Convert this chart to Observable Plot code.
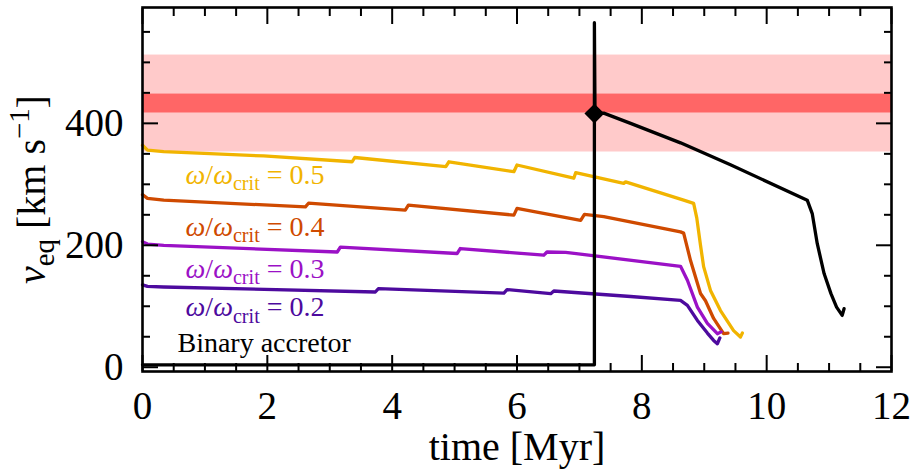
<!DOCTYPE html>
<html><head><meta charset="utf-8">
<script src="https://cdn.jsdelivr.net/npm/d3@7"></script>
<script src="https://cdn.jsdelivr.net/npm/@observablehq/plot@0.6"></script>
<style>body{margin:0;background:#fff} svg text, svg tspan{font-family:"Liberation Serif", serif !important;}</style>
</head><body><div id="chart"></div>
<script>
// ---- data ----
const xMajor = [0, 2, 4, 6, 8, 10, 12];
const xMinor = [0.5,1,1.5,2.5,3,3.5,4.5,5,5.5,6.5,7,7.5,8.5,9,9.5,10.5,11,11.5];
const yMajor = [0, 200, 400];
const yMinor = [50,100,150,250,300,350,450,500,550];

const bandOuter = [353, 512];
const bandInner = [417, 448];

const t05 = [0, 0.08, 0.34, 1.94, 3.36, 3.40, 4.86, 4.91, 5.95, 6.0, 6.91, 6.94, 7.71, 7.74, 8.67, 8.83, 8.88, 8.94, 8.99, 9.10, 9.26, 9.47, 9.58, 9.61];
const v05 = [364, 356, 353.6, 346.5, 337, 344, 329, 337, 320.7, 331.7, 310, 319, 301.6, 304, 274, 268.7, 245, 200, 165, 126, 93, 60, 49.5, 56];
const t04 = [0, 0.08, 0.34, 2.61, 2.66, 4.21, 4.26, 5.95, 6.0, 7.02, 7.08, 7.39, 8.62, 8.67, 8.78, 8.94, 9.02, 9.15, 9.31, 9.38];
const v04 = [283, 277, 274, 263, 269, 257.7, 266, 249.5, 260.5, 241, 250.6, 247, 222, 220, 175, 121, 109, 80, 55, 56];
const t03 = [0, 0.08, 0.34, 3.12, 3.17, 5.04, 5.09, 6.43, 6.48, 6.78, 8.62, 8.73, 8.89, 9.05, 9.21, 9.27];
const v03 = [206, 202, 200, 189, 197, 186.5, 194.7, 183.7, 189, 188.5, 165.6, 142.6, 98.7, 72, 55, 58];
const t02 = [0, 0.08, 0.34, 3.73, 3.78, 5.79, 5.84, 6.54, 6.59, 7.82, 8.62, 8.73, 8.89, 9.05, 9.15, 9.21, 9.25];
const v02 = [135, 132.5, 131.6, 123.4, 129, 121.7, 127.3, 120.7, 125, 116, 109.7, 101.5, 76.8, 56, 44, 38.5, 48];
const tBin = [0, 7.24, 7.24, 7.25, 7.39, 7.82, 8.62, 9.42, 10.65, 10.73, 10.81, 10.92, 11.03, 11.12, 11.21, 11.24];
const vBin = [4, 4, 565, 416, 416.7, 400, 368, 332, 274, 252, 203, 153.6, 120.7, 98.7, 85, 96];

const markerT = [7.24];
const markerV = [416];

const seriesColors = ["#f1b400", "#cf4a00", "#9b11c6", "#4d0a9e", "#000000"];
const labelText = ["*ω*/*ω*_{crit} = 0.5", "*ω*/*ω*_{crit} = 0.4", "*ω*/*ω*_{crit} = 0.3", "*ω*/*ω*_{crit} = 0.2", "Binary accretor"];
const labelX = [0.69, 0.69, 0.69, 0.69, 0.56];
const labelY = [315, 230, 161, 98, 39];

const xLabel = "time [Myr]";
const yLabel = "*v*_{eq} [km s^{−1}]";

// ---- build ----
const pts = (t, v) => t.map((d, i) => ({x: d, y: v[i]}));
const series = [pts(t05, v05), pts(t04, v04), pts(t03, v03), pts(t02, v02), pts(tBin, vBin)];
const labels = labelText.map((s, i) => ({s, x: labelX[i], y: labelY[i], c: seriesColors[i]}));

const FONT = "Liberation Serif";

const tickAxes = [];
for (const anchor of ["bottom", "top"]) {
  tickAxes.push(Plot.axisX({anchor, ticks: xMajor, tickSize: -16, tickFormat: () => "", label: null, strokeWidth: 2}));
  tickAxes.push(Plot.axisX({anchor, ticks: xMinor, tickSize: -8, tickFormat: () => "", label: null, strokeWidth: 2}));
}
for (const anchor of ["left", "right"]) {
  tickAxes.push(Plot.axisY({anchor, ticks: yMajor, tickSize: -16, tickFormat: () => "", label: null, strokeWidth: 2}));
  tickAxes.push(Plot.axisY({anchor, ticks: yMinor, tickSize: -8, tickFormat: () => "", label: null, strokeWidth: 2}));
}

const chart = Plot.plot({
  width: 912,
  height: 471,
  marginLeft: 142,
  marginRight: 21,
  marginTop: 7,
  marginBottom: 100,
  style: {fontFamily: FONT, fontSize: "39px", color: "black", background: "white"},
  x: {domain: [0, 12]},
  y: {domain: [-7, 590]},
  marks: [
    Plot.rect([bandOuter], {y1: d => d[0], y2: d => d[1], fill: "#ffcaca"}),
    Plot.rect([bandInner], {y1: d => d[0], y2: d => d[1], fill: "#ff6666"}),
    ...series.map((s, i) => Plot.line(s, {x: "x", y: "y", stroke: seriesColors[i], strokeWidth: 3.3, strokeLinejoin: "round", strokeLinecap: "round"})),
    Plot.dot(markerT.map((t, i) => ({x: t, y: markerV[i]})), {x: "x", y: "y", symbol: "diamond2", r: 8, fill: "black", stroke: "black"}),
    Plot.text(labels, {x: "x", y: "y", text: "s", fill: "c", textAnchor: "start", lineAnchor: "middle", fontSize: 28, fontFamily: FONT, className: "rich"}),
    Plot.axisX({anchor: "bottom", ticks: xMajor, tickSize: 0, tickPadding: 20, label: null, tickFormat: d => String(d), fontFamily: FONT, fontSize: 39}),
    Plot.axisY({anchor: "left", ticks: yMajor, tickSize: 0, tickPadding: 19, label: null, tickFormat: d => String(d), fontFamily: FONT, fontSize: 39}),
    Plot.text([xLabel], {frameAnchor: "bottom", textAnchor: "middle", lineAnchor: "middle", dy: 76, text: d => d, fontSize: 40, fontFamily: FONT, className: "rich"}),
    Plot.text([yLabel], {frameAnchor: "left", textAnchor: "middle", lineAnchor: "middle", dx: -110, rotate: -90, text: d => d, fontSize: 40, fontFamily: FONT, className: "rich"}),
    ...tickAxes,
    Plot.frame({stroke: "black", strokeWidth: 2.6})
  ]
});

// rich-text post-processing: *italic*, _{sub}, ^{sup}
const NS = "http://www.w3.org/2000/svg";
d3.select(chart).selectAll(".rich text").each(function() {
  const s = this.textContent;
  const fs = parseFloat(this.getAttribute("font-size")) || parseFloat(this.parentNode.getAttribute("font-size")) || 28;
  this.textContent = "";
  this.setAttribute("font-family", FONT);
  const re = /\*([^*]+)\*|_\{([^}]+)\}|\^\{([^}]+)\}|([^*_^]+)/g;
  let m, shift = 0;
  while ((m = re.exec(s))) {
    const t = document.createElementNS(NS, "tspan");
    let target = 0;
    if (m[1]) { t.textContent = m[1]; t.setAttribute("font-style", "italic"); }
    else if (m[2]) { t.textContent = m[2]; t.setAttribute("font-size", (fs * 0.72) + "px"); target = fs * 0.22; }
    else if (m[3]) { t.textContent = m[3]; t.setAttribute("font-size", (fs * 0.72) + "px"); target = -fs * 0.4; }
    else { t.textContent = m[4]; }
    if (target !== shift) { t.setAttribute("dy", (target - shift) + "px"); shift = target; }
    this.appendChild(t);
  }
});
document.getElementById("chart").appendChild(chart);
</script>
</body></html>
